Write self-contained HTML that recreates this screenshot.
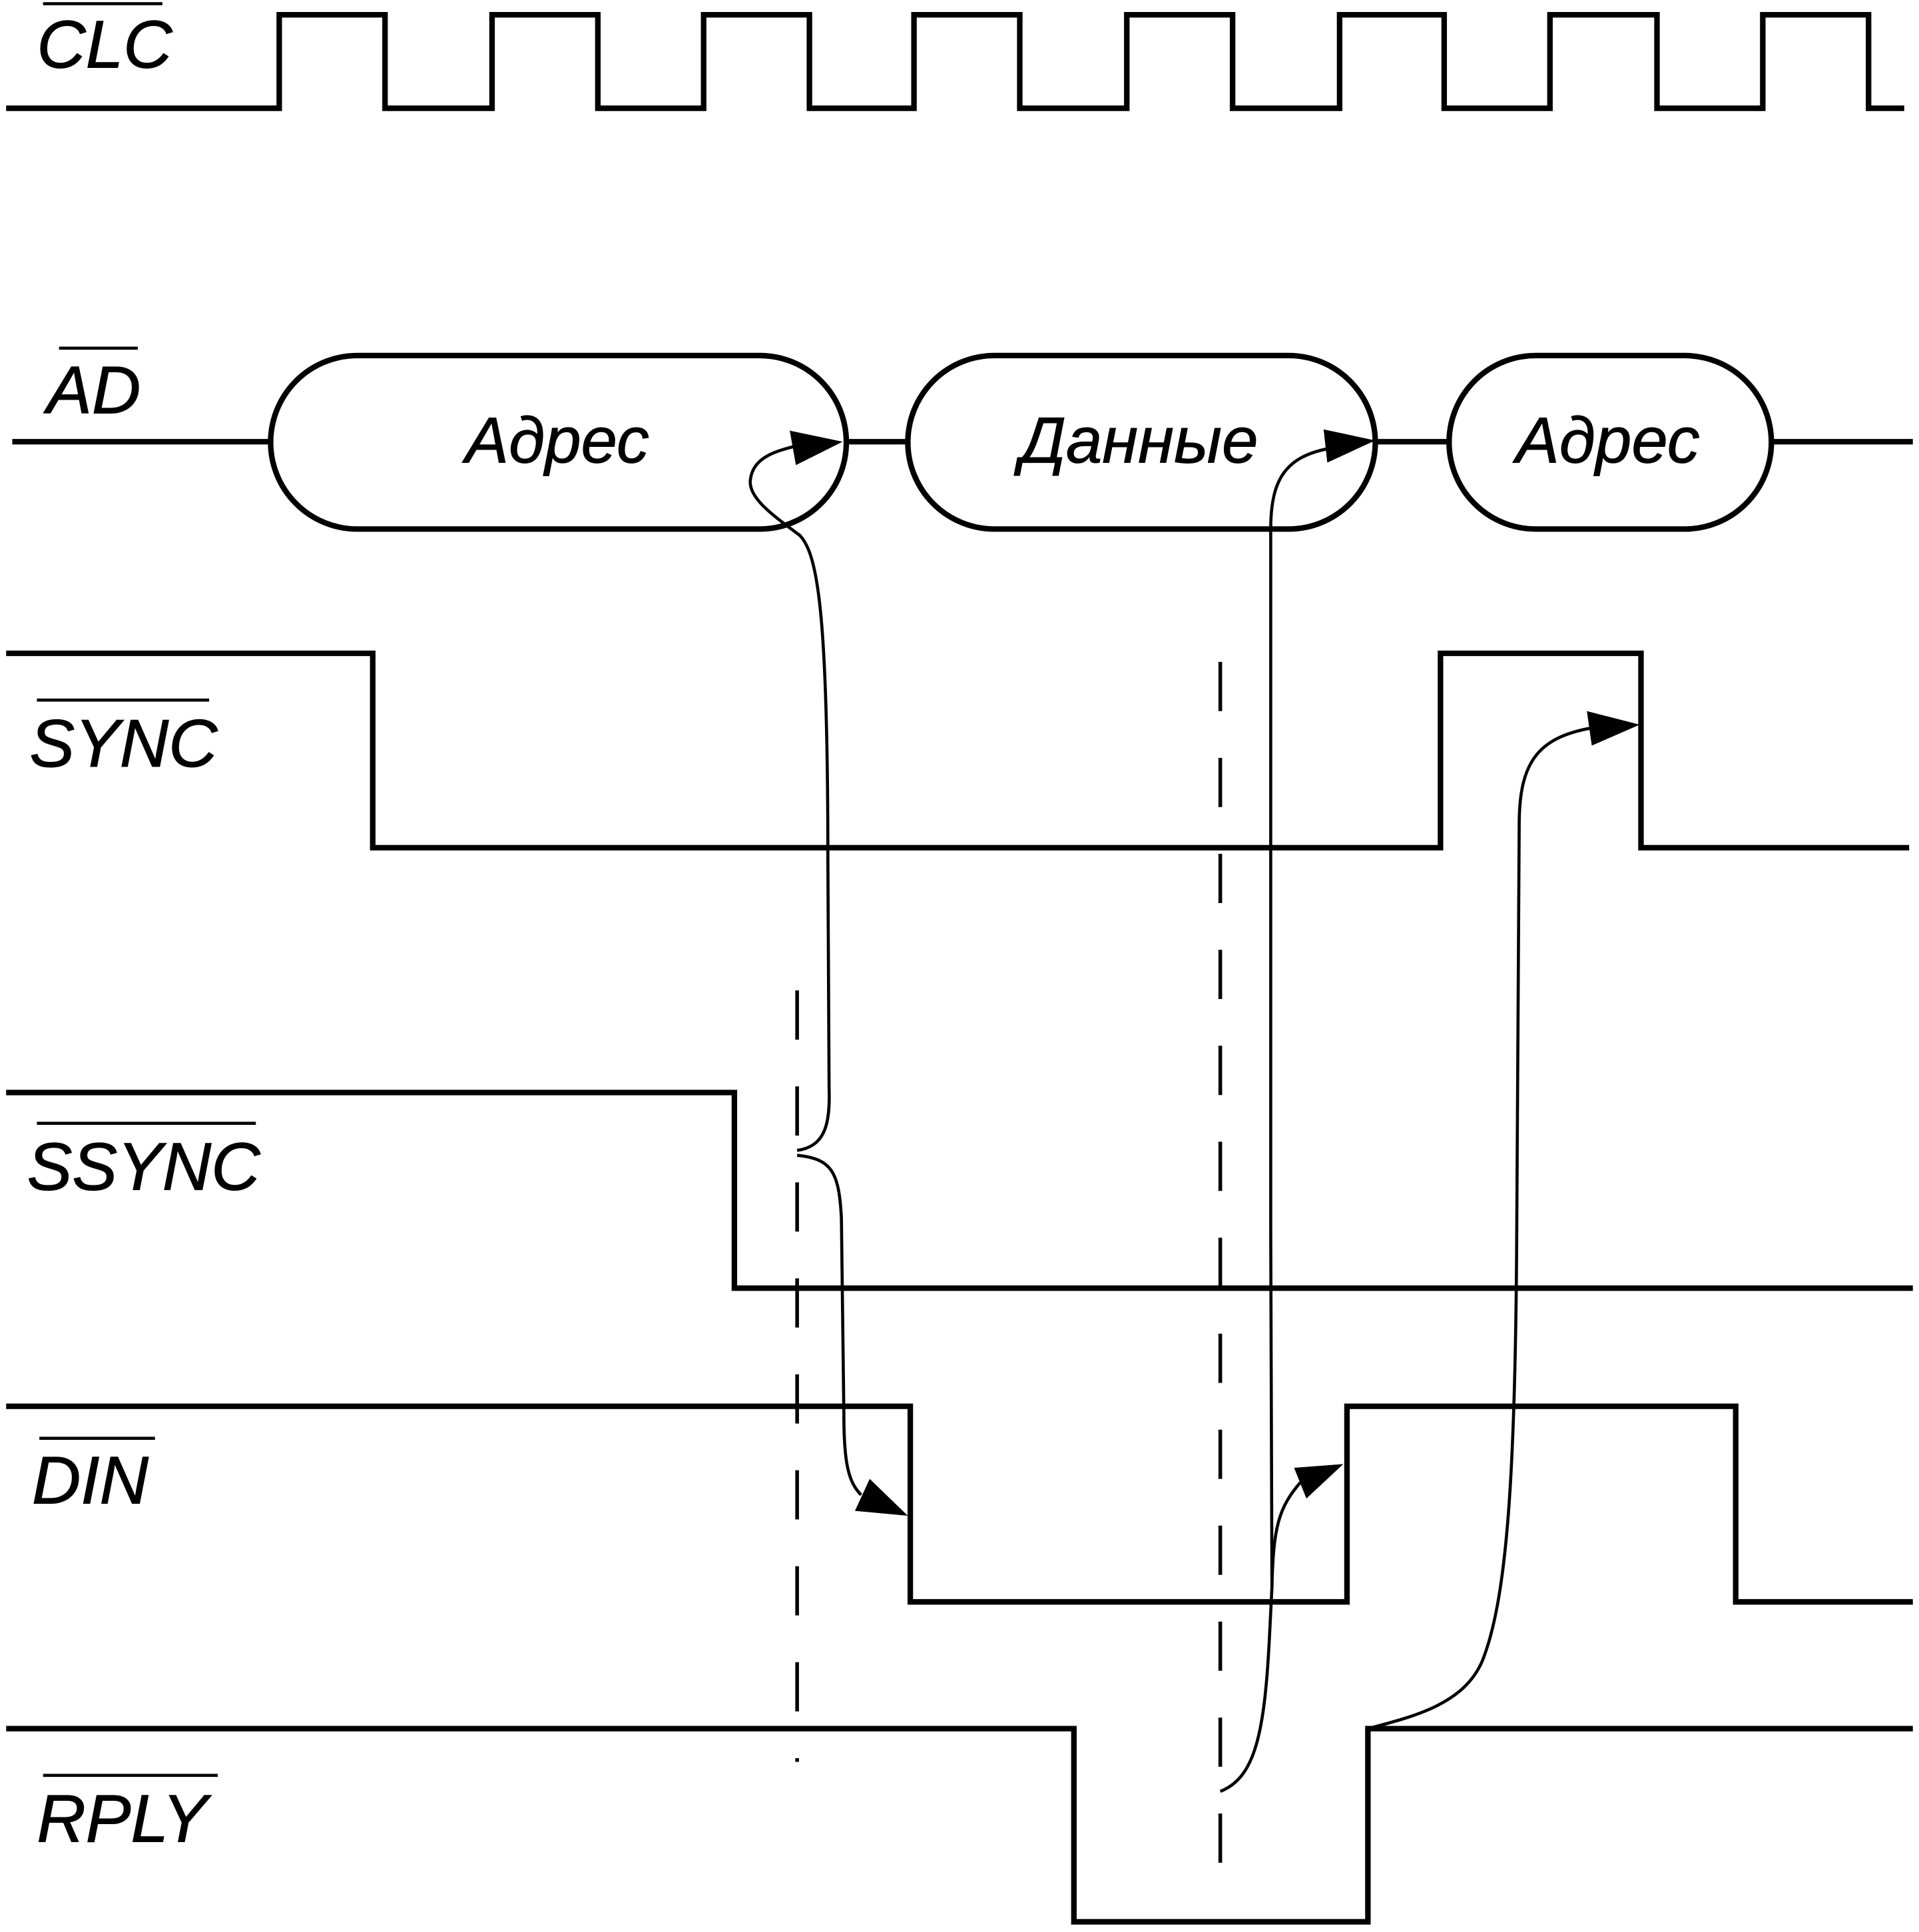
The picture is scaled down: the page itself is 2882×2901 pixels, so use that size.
<!DOCTYPE html>
<html><head><meta charset="utf-8"><style>html,body{margin:0;padding:0;background:#fff}svg{display:block}</style></head>
<body>
<svg width="2882" height="2901" viewBox="0 0 1560 1570.3" preserveAspectRatio="none" xmlns="http://www.w3.org/2000/svg">
<g fill="none" stroke="#000" stroke-width="4.5" stroke-linejoin="miter">
<polyline points="5,88 227,88 227,12 313,12 313,88 400,88 400,12 486,12 486,88 572,88 572,12 658,12 658,88 743,88 743,12 829,12 829,88 916,88 916,12 1002,12 1002,88 1089,88 1089,12 1174,12 1174,88 1260,88 1260,12 1347,12 1347,88 1433,88 1433,12 1519,12 1519,88 1548,88"/>
<line x1="10" y1="359" x2="220" y2="359"/>
<rect x="220" y="289" width="468" height="141" rx="70.5"/>
<line x1="688" y1="359" x2="738" y2="359"/>
<rect x="738" y="289" width="380" height="141" rx="70.5"/>
<line x1="1118" y1="359" x2="1178" y2="359"/>
<rect x="1178" y="289" width="262" height="141" rx="70.5"/>
<line x1="1440" y1="359" x2="1555" y2="359"/>
<polyline points="5,531 303,531 303,689 1171,689 1171,531 1334,531 1334,689 1552,689"/>
<polyline points="5,888 597,888 597,1047 1555,1047"/>
<polyline points="5,1143 740,1143 740,1302 1095,1302 1095,1143 1411,1143 1411,1302 1555,1302"/>
<polyline points="5,1405 873,1405 873,1562 1112,1562 1112,1405 1555,1405"/>
</g>
<g stroke="#000" stroke-width="3" stroke-dasharray="40 38">
<line x1="648" y1="805" x2="648" y2="1432"/>
<line x1="992" y1="538" x2="992" y2="1550"/>
</g>
<g fill="none" stroke="#000" stroke-width="2.5">
<path d="M648,935 C670,932 675,915 674,885 L673,700 C673,500 665,450 650,435 C630,420 608,405 610,390 C612,372 630,367 645,363"/>
<path d="M648,939 C676,942 682,952 684,990 L686,1150 C686,1190 690,1205 700,1215"/>
<path d="M992,1456 C1020,1445 1028,1410 1032,1330 L1034,1290 L1033,1000 L1033,430 C1033,390 1045,372 1078,365"/>
<path d="M1034,1290 C1035,1240 1040,1225 1057,1205"/>
<path d="M1112,1405 C1150,1395 1190,1385 1205,1350 C1225,1300 1232,1200 1233,1000 L1235,670 C1235,620 1250,600 1292,592"/>
</g>
<g fill="#000">
<polygon points="685,359 642,350 647,378"/>
<polygon points="738,1232 695,1228 707,1202"/>
<polygon points="1118,358 1076,349 1079,376"/>
<polygon points="1092,1190 1052,1193 1062,1218"/>
<polygon points="1333,589 1290,578 1294,606"/>
</g>
<g stroke="#000" stroke-width="2.5">
<line x1="35" y1="3" x2="132" y2="3"/>
<line x1="48" y1="283" x2="112" y2="283"/>
<line x1="30" y1="569" x2="170" y2="569"/>
<line x1="30" y1="913" x2="208" y2="913"/>
<line x1="32" y1="1169" x2="126" y2="1169"/>
<line x1="35" y1="1443" x2="177" y2="1443"/>
</g>
<g font-family="'Liberation Sans', sans-serif" font-style="italic" font-size="55" fill="#000" stroke="#000" stroke-width="0.6">
<text x="30" y="55">CLC</text>
<text x="38" y="336">AD</text>
<text x="24" y="623">SYNC</text>
<text x="22" y="967">SSYNC</text>
<text x="26" y="1222">DIN</text>
<text x="30" y="1497">RPLY</text>
</g>
<g font-family="'Liberation Sans', sans-serif" font-style="italic" font-size="53" fill="#000" stroke="#000" stroke-width="0.5" text-anchor="middle">
<text x="453" y="376">Адрес</text>
<text x="926" y="376">Данные</text>
<text x="1307" y="376">Адрес</text>
</g>
</svg>
</body></html>
